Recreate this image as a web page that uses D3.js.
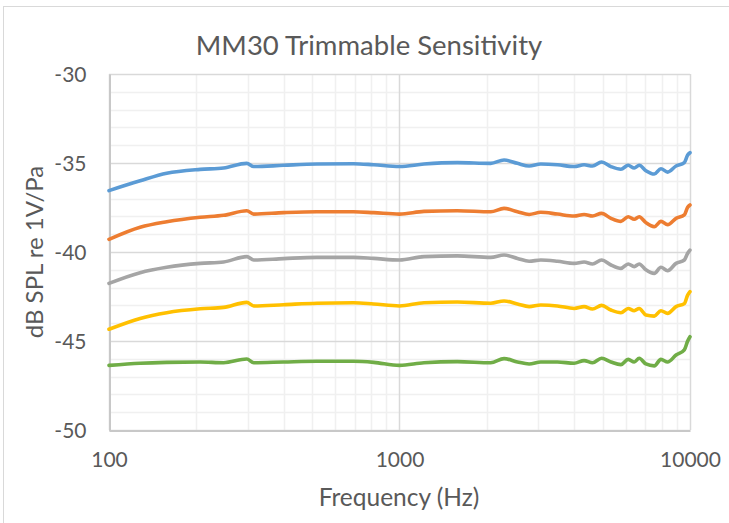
<!DOCTYPE html>
<html><head><meta charset="utf-8">
<script src="https://cdn.jsdelivr.net/npm/d3@7"></script>
<style>html,body{margin:0;padding:0;background:#fff;}svg{display:block;}</style>
</head><body>
<svg id="chart" width="729" height="523"></svg>
<script>
const title = "MM30 Trimmable Sensitivity";
const xTitle = "Frequency (Hz)";
const yTitle = "dB SPL re 1V/Pa";
const xTicks = [100, 1000, 10000];
const yTicks = [-50, -45, -40, -35, -30];
const freqs = [100,128,158,206,248,298,315,399,520,695,815,1000,
  1214,1581,2061,2290,2548,2794,3064,3497,3991,4321,4617,4962,5345,5783,6126,6428,6686,7050,7532,7943,8375,8954,9560,9817,10000];
const blue = [-36.55,-36.0,-35.58,-35.36,-35.28,-35.02,-35.2,-35.13,-35.06,-35.04,-35.1,-35.2,
  -35.06,-34.98,-35.02,-34.83,-35.02,-35.17,-35.06,-35.1,-35.2,-35.1,-35.17,-34.94,-35.2,-35.35,-35.13,-35.28,-35.13,-35.43,-35.62,-35.32,-35.51,-35.17,-34.98,-34.55,-34.42];
const orange = [-39.29,-38.61,-38.3,-38.05,-37.94,-37.68,-37.87,-37.79,-37.74,-37.74,-37.79,-37.87,
  -37.72,-37.68,-37.74,-37.55,-37.74,-37.89,-37.77,-37.87,-37.98,-37.89,-37.98,-37.83,-38.11,-38.28,-38.02,-38.16,-38.02,-38.35,-38.58,-38.28,-38.46,-38.11,-37.92,-37.49,-37.36];
const gray = [-41.76,-41.16,-40.86,-40.64,-40.56,-40.26,-40.45,-40.37,-40.3,-40.3,-40.36,-40.45,
  -40.26,-40.22,-40.3,-40.17,-40.36,-40.52,-40.45,-40.52,-40.64,-40.56,-40.67,-40.45,-40.73,-40.92,-40.67,-40.82,-40.67,-41.0,-41.2,-40.86,-41.05,-40.64,-40.45,-40.07,-39.89];
const yellow = [-44.34,-43.73,-43.41,-43.19,-43.11,-42.83,-43.03,-42.96,-42.88,-42.85,-42.92,-43.03,
  -42.85,-42.81,-42.88,-42.75,-42.92,-43.07,-42.98,-43.03,-43.17,-43.07,-43.2,-43.0,-43.26,-43.41,-43.17,-43.3,-43.17,-43.54,-43.6,-43.3,-43.45,-43.07,-42.9,-42.42,-42.23];
const green = [-46.37,-46.25,-46.2,-46.18,-46.22,-46.01,-46.22,-46.18,-46.14,-46.14,-46.2,-46.37,
  -46.22,-46.16,-46.22,-45.99,-46.18,-46.29,-46.18,-46.18,-46.25,-46.1,-46.22,-45.97,-46.18,-46.33,-46.03,-46.18,-45.97,-46.29,-46.4,-46.03,-46.18,-45.79,-45.5,-45.0,-44.76];
const seriesList = [
  {name:"S1", values: blue, color:"#5B9BD5"},
  {name:"S2", values: orange, color:"#ED7D31"},
  {name:"S3", values: gray, color:"#A5A5A5"},
  {name:"S4", values: yellow, color:"#FFC000"},
  {name:"S5", values: green, color:"#70AD47"}
];

const svg = d3.select("#chart");
const font = "Lato, 'Open Sans', sans-serif";
const L = 109, R = 690, T = 74, B = 430;
const x = d3.scaleLog().domain([100, 10000]).range([L, R]);
const y = d3.scaleLinear().domain([-50, -30]).range([B, T]);

// chart area border
svg.append("rect").attr("x", 3.5).attr("y", 6.5).attr("width", 740).attr("height", 540)
  .attr("fill", "#fff").attr("stroke", "#d9d9d9").attr("stroke-width", 1);

// minor gridlines
const minorX = [];
[100, 1000].forEach(d => { for (let k = 2; k <= 9; k++) minorX.push(d * k); });
const minorY = d3.range(-50, -29, 1).filter(v => v % 5 !== 0);
const g = svg.append("g");
g.selectAll(".mx").data(minorX).join("line")
  .attr("x1", d => Math.round(x(d)) + 0.5).attr("x2", d => Math.round(x(d)) + 0.5)
  .attr("y1", T).attr("y2", B).attr("stroke", "#f0f0f0").attr("stroke-width", 1.5);
g.selectAll(".my").data(minorY).join("line")
  .attr("x1", L).attr("x2", R)
  .attr("y1", d => Math.round(y(d)) + 0.5).attr("y2", d => Math.round(y(d)) + 0.5)
  .attr("stroke", "#f0f0f0").attr("stroke-width", 1.5);
// major gridlines
g.selectAll(".Mx").data(xTicks).join("line")
  .attr("x1", d => Math.round(x(d)) + 0.5).attr("x2", d => Math.round(x(d)) + 0.5)
  .attr("y1", T).attr("y2", B).attr("stroke", "#d9d9d9").attr("stroke-width", 1.5);
g.selectAll(".My").data(yTicks).join("line")
  .attr("x1", L).attr("x2", R)
  .attr("y1", d => Math.round(y(d)) + 0.5).attr("y2", d => Math.round(y(d)) + 0.5)
  .attr("stroke", "#d9d9d9").attr("stroke-width", 1.5);

// axes via d3
const xAxis = d3.axisBottom(x).tickValues(xTicks).tickFormat(d3.format("d")).tickSize(0).tickPadding(22);
const yAxis = d3.axisLeft(y).tickValues(yTicks).tickFormat(d => d3.format("d")(d).replace("−", "-")).tickSize(0).tickPadding(23);
const gx = svg.append("g").attr("transform", `translate(0,${B + 0.5})`).call(xAxis);
const gy = svg.append("g").attr("transform", `translate(${L + 0.5},0)`).call(yAxis);
[gx, gy].forEach(a => {
  a.select(".domain").attr("stroke", "#c8c8c8").attr("stroke-width", 2);
  a.selectAll("text").attr("font-family", font).attr("font-size", 21).attr("fill", "#595959");
});
gy.selectAll("text").attr("dy", "0.35em");

// lines
const line = d3.line().x((d, i) => x(freqs[i])).y(d => y(d)).curve(d3.curveMonotoneX);
svg.append("g").selectAll("path").data(seriesList).join("path")
  .attr("d", s => line(s.values))
  .attr("fill", "none").attr("stroke", s => s.color).attr("stroke-width", 3.6)
  .attr("stroke-linejoin", "round").attr("stroke-linecap", "round");

// titles
svg.append("text").attr("x", 369).attr("y", 55).attr("text-anchor", "middle")
  .attr("font-family", font).attr("font-size", 27.5).attr("fill", "#595959").text(title);
svg.append("text").attr("x", 399).attr("y", 506).attr("text-anchor", "middle")
  .attr("font-family", font).attr("font-size", 24.5).attr("fill", "#595959").text(xTitle);
svg.append("text").attr("transform", `translate(43,${(T + B) / 2}) rotate(-90)`).attr("text-anchor", "middle")
  .attr("font-family", font).attr("font-size", 24).attr("fill", "#595959").text(yTitle);
</script>
</body></html>
